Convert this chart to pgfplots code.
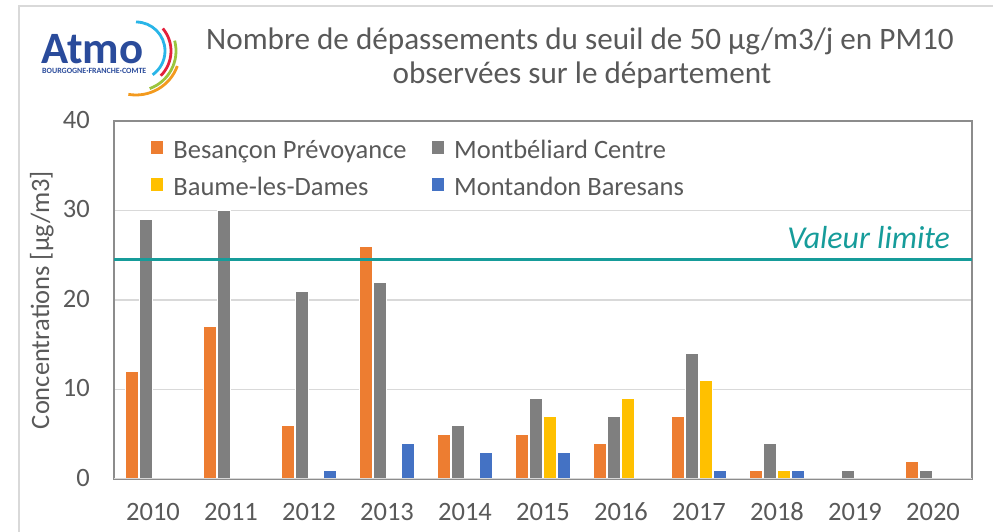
\documentclass[border=0pt]{standalone}
\usepackage{fontspec}
\setmainfont{Carlito}
\usepackage{pgfplots}
\pgfplotsset{compat=1.18}
\definecolor{Besancon}{HTML}{ED7D31}
\definecolor{Montbeliard}{HTML}{7F7F7F}
\definecolor{Baume}{HTML}{FFC000}
\definecolor{Montandon}{HTML}{4472C4}
\definecolor{Limite}{HTML}{169C9A}
\definecolor{Ink}{HTML}{595959}
\definecolor{Grid}{HTML}{D9D9D9}
\definecolor{Frame}{HTML}{8C8C8C}
\definecolor{AtmoBlue}{HTML}{2A4B9B}
\definecolor{ArcCyan}{HTML}{29B5E8}
\definecolor{ArcRed}{HTML}{E3203C}
\definecolor{ArcGreen}{HTML}{9BC53D}
\definecolor{ArcOrange}{HTML}{F39A1E}

\begin{document}
\begin{tikzpicture}[x=1bp,y=1bp]
  \useasboundingbox (0,0) rectangle (993,532);
  % chart frame
  \draw[Grid,line width=1.5bp] (19,0) -- (19,526) -- (993,526);
  % logo
  \node[anchor=base west,inner sep=0,text depth=0pt,text=AtmoBlue,font=\fontsize{45}{45}\selectfont\bfseries] at (41,468) {Atmo};
  \node[anchor=base west,inner sep=0,text height=5bp,text depth=0pt,text=AtmoBlue,font=\fontsize{8}{8}\selectfont\bfseries] at (42,458) {BOURGOGNE·FRANCHE·COMTE};
  \draw[ArcCyan,line width=2.8bp] (136,481) ++(90:29) arc[start angle=90,end angle=-55,radius=29];
  \draw[ArcRed,line width=2.8bp] (136,481) ++(40:35) arc[start angle=40,end angle=-45,radius=35];
  \draw[ArcGreen,line width=2.8bp] (136,481) ++(15:40) arc[start angle=15,end angle=-70,radius=40];
  \draw[ArcOrange,line width=2.8bp] (136,481) ++(-20:44) arc[start angle=-20,end angle=-100,radius=44];
  % title
  \node[anchor=base,inner sep=0,text=Ink,font=\fontsize{31.3}{36}\selectfont] at (580,482) {Nombre de dépassements du seuil de 50 µg/m3/j en PM10};
  \node[anchor=base,inner sep=0,text=Ink,font=\fontsize{31.3}{36}\selectfont] at (582,448) {observées sur le département};

  \begin{axis}[
      at={(114bp,53bp)}, anchor=south west,
      scale only axis,
      width=858bp, height=358bp,
      xmin=-0.5, xmax=10.5,
      ymin=0, ymax=40,
      ybar,
      bar width=12.5bp,
      xtick={0,...,10},
      xticklabels={2010,2011,2012,2013,2014,2015,2016,2017,2018,2019,2020},
      ytick={0,10,20,30,40},
      major tick length=0pt,
      ymajorgrids=true,
      major grid style={draw=Grid,line width=1.5bp},
      axis line style={draw=Frame,line width=1.5bp},
      /pgf/number format/assume math mode=true,
      tick label style={font=\fontsize{26.6}{32}\selectfont,text=Ink},
      xticklabel style={anchor=base,yshift=-42bp},
      yticklabel style={anchor=mid east,inner sep=0pt,xshift=-24bp,yshift=-5bp},
      ylabel={Concentrations [µg/m3]},
      ylabel style={at={(axis description cs:-0.084,0.5)},anchor=center,font=\fontsize{26.6}{32}\selectfont,text=Ink},
      legend columns=2,
      legend cell align=left,
      legend image code/.code={\fill[#1,draw=none] (0bp,-1.5bp) rectangle (12.5bp,11.5bp);},
      legend style={at={(0.043,0.945)},anchor=north west,draw=none,fill=none,inner sep=0pt,outer sep=0pt,
        font=\fontsize{26.6}{32}\selectfont,text=Ink,row sep=13bp,
        nodes={inner sep=0pt,text height=18bp,text depth=6bp},
        /tikz/every odd column/.append style={column sep=10bp},
        /tikz/every even column/.append style={column sep=25bp}},
      clip=true]
    \addplot[fill=Besancon,draw=white,line width=0.75bp,bar shift=-21bp]
      coordinates {(0,12)(1,17)(2,6)(3,26)(4,5)(5,5)(6,4)(7,7)(8,1)(10,2)};
    \addplot[fill=Montbeliard,draw=white,line width=0.75bp,bar shift=-7bp]
      coordinates {(0,29)(1,30)(2,21)(3,22)(4,6)(5,9)(6,7)(7,14)(8,4)(9,1)(10,1)};
    \addplot[fill=Baume,draw=white,line width=0.75bp,bar shift=7bp]
      coordinates {(5,7)(6,9)(7,11)(8,1)};
    \addplot[fill=Montandon,draw=white,line width=0.75bp,bar shift=21bp]
      coordinates {(2,1)(3,4)(4,3)(5,3)(7,1)(8,1)};
    \legend{Besançon Prévoyance,Montbéliard Centre,Baume-les-Dames,Montandon Baresans}
    \addplot[sharp plot,forget plot,draw=Limite,line width=3bp]
      coordinates {(-0.5,24.5)(10.5,24.5)};
    \draw[Grid,line width=1.5bp] (rel axis cs:0,0) -- (rel axis cs:1,0);
    \node[anchor=base east,inner sep=0,text=Limite,font=\fontsize{32}{38}\selectfont\itshape] at (axis cs:10.22,25.8) {Valeur limite};
  \end{axis}
\end{tikzpicture}
\end{document}
